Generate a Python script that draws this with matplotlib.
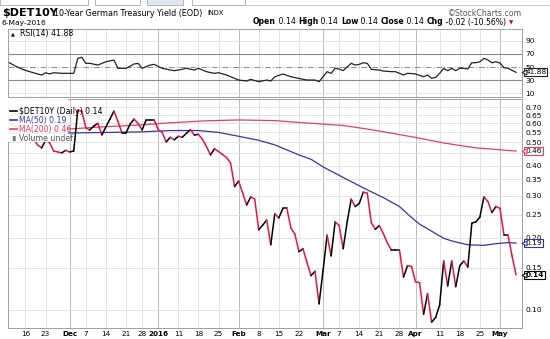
import numpy as np
import pandas as pd
import matplotlib.pyplot as plt
from matplotlib.collections import LineCollection
from matplotlib.patches import Rectangle
from matplotlib.transforms import blended_transform_factory
from matplotlib.ticker import FixedLocator, NullLocator, FuncFormatter

# ── data ──────────────────────────────────────────────────────────────────────
# Bund trading days (no fixing on Christmas / New Year)
days = pd.bdate_range('2015-11-10', '2016-05-06')
days = days[~days.isin(pd.to_datetime(['2015-12-25', '2016-01-01']))]

close = [0.60, 0.59, 0.575, 0.56, 0.55, 0.535, 0.515, 0.488, 0.474, 0.51,
         0.498, 0.46, 0.456, 0.452, 0.463, 0.456, 0.46, 0.68, 0.675, 0.575,
         0.563, 0.585, 0.60, 0.537, 0.58, 0.625, 0.675, 0.61, 0.547, 0.547,
         0.595, 0.625, 0.60, 0.563, 0.62, 0.62, 0.62, 0.565, 0.55, 0.502,
         0.525, 0.512, 0.53, 0.525, 0.545, 0.565, 0.536, 0.54, 0.515, 0.48,
         0.443, 0.47, 0.458, 0.445, 0.432, 0.41, 0.327, 0.345, 0.307, 0.274,
         0.296, 0.29, 0.216, 0.226, 0.237, 0.187, 0.252, 0.242, 0.265, 0.265,
         0.22, 0.207, 0.175, 0.18, 0.158, 0.139, 0.145, 0.106, 0.146, 0.205,
         0.168, 0.233, 0.225, 0.18, 0.233, 0.29, 0.27, 0.278, 0.31, 0.307,
         0.231, 0.217, 0.225, 0.208, 0.19, 0.178, 0.178, 0.178, 0.137, 0.153,
         0.152, 0.131, 0.13, 0.096, 0.117, 0.089, 0.093, 0.105, 0.16, 0.126,
         0.16, 0.125, 0.153, 0.16, 0.151, 0.23, 0.233, 0.244, 0.296, 0.283,
         0.255, 0.27, 0.265, 0.205, 0.205, 0.168, 0.14]

ma50_day = [0, 14, 25, 33, 40, 47, 52, 57, 62, 66, 72, 75, 78, 83, 88, 93,
            97, 100, 102, 105, 108, 110, 114, 118, 121, 124, 126]
ma50_val = [0.545, 0.547, 0.55, 0.553, 0.56, 0.56, 0.55, 0.53, 0.51, 0.488,
            0.443, 0.425, 0.395, 0.357, 0.323, 0.294, 0.27, 0.243, 0.228,
            0.213, 0.199, 0.194, 0.187, 0.186, 0.189, 0.191, 0.19]

ma200_day = [0, 14, 23, 32, 40, 49, 57, 66, 72, 74, 83, 89, 95, 101, 108,
             116, 126]
ma200_val = [0.558, 0.567, 0.58, 0.59, 0.603, 0.615, 0.62, 0.616, 0.605,
             0.602, 0.588, 0.568, 0.546, 0.524, 0.497, 0.474, 0.46]

rsi_day = [0, 1, 3, 5, 8, 9, 10, 11, 13, 16, 17, 18, 19, 20, 22, 24, 26, 27,
           29, 31, 32, 33, 35, 36, 38, 41, 43, 44, 46, 47, 49, 51, 52, 54, 56,
           57, 59, 60, 62, 64, 65, 66, 68, 70, 73, 74, 76, 77, 79, 80, 81, 82,
           83, 84, 85, 86, 87, 88, 89, 90, 92, 93, 95, 96, 98, 99, 100, 101,
           103, 104, 105, 106, 107, 108, 109, 110, 111, 112, 113, 114, 115,
           116, 117, 118, 119, 120, 121, 122, 123, 124, 125, 126]
rsi_val = [56.5, 53, 47, 43, 37.8, 41.3, 39.4, 41.3, 40.4, 40.4, 63, 64.8,
           55.6, 55.6, 53, 58, 60.6, 48, 48, 54.6, 55.6, 48, 53, 54, 48, 44.4,
           46.5, 48, 45.4, 48, 42.9, 40.4, 41.3, 37.8, 32.8, 30.2, 28.7, 31.3,
           27.6, 30.2, 28.7, 35.2, 39.4, 35.2, 31.3, 30.2, 30.2, 27.6, 42.9,
           40.4, 48, 47, 44.5, 50, 55.6, 53, 54, 56.5, 55.6, 46.5, 45.4, 43.9,
           42.9, 42.9, 37.8, 40.4, 40, 39.4, 35.2, 37.8, 32.8, 34.3, 40.4, 48,
           44.4, 48, 44.4, 48, 48, 47, 56.5, 56.5, 58, 63.2, 60.6, 56.5, 58,
           56, 49, 48, 45, 41.88]

tick_dates = ['2015-11-16', '2015-11-23', '2015-12-01', '2015-12-07',
              '2015-12-14', '2015-12-21', '2015-12-28', '2016-01-04',
              '2016-01-11', '2016-01-18', '2016-01-25', '2016-02-01',
              '2016-02-08', '2016-02-15', '2016-02-22', '2016-03-01',
              '2016-03-07', '2016-03-14', '2016-03-21', '2016-03-28',
              '2016-04-01', '2016-04-11', '2016-04-18', '2016-04-25',
              '2016-05-02']
tick_labels = ['16', '23', 'Dec', '7', '14', '21', '28', '2016', '11', '18',
               '25', 'Feb', '8', '15', '22', 'Mar', '7', '14', '21', '28',
               'Apr', '11', '18', '25', 'May']
month_labels = ['Dec', '2016', 'Feb', 'Mar', 'Apr', 'May']

price_levels = [0.10, 0.15, 0.20, 0.25, 0.30, 0.35, 0.40, 0.45, 0.50, 0.55,
                0.60, 0.65, 0.70]
hidden_levels = [0.45]          # sits under the MA(200) tag
rsi_levels = [10, 30, 50, 70, 90]

last_close, last_ma50, last_ma200, last_rsi = 0.14, 0.19, 0.46, 41.88

# ── style ─────────────────────────────────────────────────────────────────────
UP, DOWN = '#000000', '#e3173e'
C_MA50, C_MA200 = '#3535a8', '#e4405f'
GRID, GRID_M, SPINE = '#e3e3e3', '#bcbcbc', '#a0a0a0'
FS = 5.3

W, H = 550, 339
fx = lambda px: px / W
fy = lambda py: 1 - py / H

fig = plt.figure(figsize=(5.5, 3.39), dpi=100)
fig.patch.set_facecolor('white')

ax_rsi = fig.add_axes([fx(8), fy(97), fx(521.7) - fx(8), fy(29) - fy(97)])
ax = fig.add_axes([fx(8), fy(327.5), fx(521.7) - fx(8), fy(98.5) - fy(327.5)])

x = np.arange(len(days))
tick_pos = days.get_indexer(pd.to_datetime(tick_dates))
xlim = (-0.35, 127.4)

for a in (ax, ax_rsi):
    a.set_xlim(*xlim)
    for s in a.spines.values():
        s.set_color(SPINE)
        s.set_linewidth(0.7)
    for p, lab in zip(tick_pos, tick_labels):
        a.axvline(p, color=GRID_M if lab in month_labels else GRID,
                  lw=0.7, zorder=0)
    a.yaxis.tick_right()
    a.tick_params(axis='y', length=0, pad=2.4, labelsize=FS)
ax.spines['bottom'].set_linestyle((0, (1, 1)))

# ── RSI panel ─────────────────────────────────────────────────────────────────
ax_rsi.set_ylim(4.4, 107.8)
ax_rsi.set_yticks(rsi_levels)
ax_rsi.set_xticks([])
for lv in (10, 90):
    ax_rsi.axhline(lv, color=GRID, lw=0.7, zorder=0)
for lv in (30, 70):
    ax_rsi.axhline(lv, color='#8a8a8a', lw=0.8, zorder=1)
ax_rsi.axhline(50, color='#8a8a8a', lw=0.7, ls=(0, (6, 2, 1, 2)), zorder=1)
ax_rsi.plot(rsi_day, rsi_val, color='#222222', lw=0.9, zorder=3)
ax_rsi.text(0.024, 0.93, 'RSI(14) 41.88', transform=ax_rsi.transAxes,
            fontsize=FS + 0.3, va='center', ha='left', zorder=6)
ax_rsi.text(0.006, 0.93, '\u25b2', transform=ax_rsi.transAxes,
            fontsize=3.6, va='center', ha='left', zorder=6)

# ── price panel ───────────────────────────────────────────────────────────────
ax.set_yscale('log')
ax.set_ylim(0.0845, 0.7617)
ax.yaxis.set_major_locator(FixedLocator(price_levels))
ax.yaxis.set_minor_locator(NullLocator())
ax.yaxis.set_major_formatter(FuncFormatter(
    lambda v, _: '' if any(abs(v - h) < 1e-9 for h in hidden_levels)
    else f'{v:.2f}'))
for lv in price_levels:
    ax.axhline(lv, color=GRID, lw=0.7, zorder=0)

ax.set_xticks(tick_pos)
ax.set_xticklabels(tick_labels)
ax.tick_params(axis='x', length=0, pad=2.6, labelsize=FS - 0.1)
for t in ax.get_xticklabels():
    if t.get_text() in month_labels:
        t.set_fontweight('bold')

ax.plot(ma200_day, ma200_val, color=C_MA200, lw=0.9, zorder=2)
ax.plot(ma50_day, ma50_val, color=C_MA50, lw=0.9, zorder=2)

pts = np.column_stack([x, close])
segs = np.stack([pts[:-1], pts[1:]], axis=1)
cols = [UP if b >= a else DOWN for a, b in zip(close[:-1], close[1:])]
ax.add_collection(LineCollection(segs, colors=cols, linewidths=1.1,
                                 capstyle='round', joinstyle='round', zorder=3))

# legend block
ax.add_patch(Rectangle((0, 0.81), 0.117, 0.19, transform=ax.transAxes,
                       facecolor='white', edgecolor='none', alpha=0.9, zorder=4))
rows = [(r'\$DET10Y (Daily) 0.14', UP), ('MA(50) 0.19', C_MA50),
        ('MA(200) 0.46', C_MA200), ('Volume undef', '#555555')]
for k, (label, c) in enumerate(rows):
    yy = 0.945 - k * 0.040
    if k < 3:
        ax.plot([0.004, 0.018], [yy, yy], color=c, lw=1.2,
                transform=ax.transAxes, zorder=5, clip_on=False)
    else:
        ax.text(0.004, yy, '\u2590\u258c', transform=ax.transAxes,
                fontsize=3.5, color='#777777', va='center', zorder=5)
    ax.text(0.022, yy, label, transform=ax.transAxes, fontsize=FS + 0.3,
            color=c, va='center', ha='left', zorder=6)


# right-hand value tags
def tag(a, y, text, color, bold=False):
    tr = blended_transform_factory(a.transAxes, a.transData)
    a.annotate(text, xy=(1.0, y), xycoords=tr, xytext=(2.6, 0),
               textcoords='offset points', ha='left', va='center',
               fontsize=FS, fontweight='bold' if bold else 'normal',
               bbox=dict(boxstyle='square,pad=0.12', fc='white', ec=color,
                         lw=0.8), zorder=10, annotation_clip=False)
    a.scatter([1.004], [y], marker='<', s=12, facecolor='white',
              edgecolor=color, linewidths=0.7, transform=tr, clip_on=False,
              zorder=11)


tag(ax_rsi, last_rsi, f'{last_rsi:.2f}', '#222222')
tag(ax, last_ma200, f'{last_ma200:.2f}', C_MA200)
tag(ax, last_ma50, f'{last_ma50:.2f}', C_MA50)
tag(ax, last_close, f'{last_close:.2f}', '#000000', bold=True)

# ── header ────────────────────────────────────────────────────────────────────
for x0, x1, fc in [(0, 88, 'white'), (95, 140, 'white'),
                   (147, 183, '#dfe7f3'), (192, 245, 'white')]:
    fig.add_artist(Rectangle((fx(x0), fy(4.5)), fx(x1 - x0), 6 / H,
                             transform=fig.transFigure, facecolor=fc,
                             edgecolor='#b4b4b4', lw=0.7))
fig.add_artist(plt.Line2D([fx(245), 1], [fy(4.5), fy(4.5)],
                          transform=fig.transFigure, color='#c8c8c8', lw=0.7))

fig.text(fx(2), fy(13), r'\$DET10Y', fontsize=8, fontweight='bold',
         va='center', ha='left')
fig.text(fx(54), fy(13), '10-Year German Treasury Yield (EOD)',
         fontsize=5.8, va='center', ha='left')
fig.text(fx(207), fy(13), 'INDX', fontsize=4.8, va='center', ha='left')
fig.text(fx(2), fy(23), '6-May-2016', fontsize=5.4, va='center', ha='left')
fig.text(fx(522), fy(13), '\u00a9StockCharts.com', fontsize=5.6,
         color='#555555', va='center', ha='right')

info = [('Open', True), (' 0.14 ', False), ('High', True), (' 0.14 ', False),
        ('Low', True), (' 0.14 ', False), ('Close', True), (' 0.14 ', False),
        ('Chg', True), (' -0.02 (-10.56%) ', False)]
prev = ax_rsi.annotate(info[0][0], xy=(fx(253), fy(26.5)),
                       xycoords='figure fraction', fontsize=5.6,
                       fontweight='bold', va='bottom', ha='left',
                       annotation_clip=False)
for s, b in info[1:]:
    prev = ax_rsi.annotate(s, xy=(1, 0), xycoords=prev, fontsize=5.6,
                           fontweight='bold' if b else 'normal',
                           va='bottom', ha='left', annotation_clip=False)
ax_rsi.annotate('\u25bc', xy=(1, 0.1), xycoords=prev, fontsize=4,
                color='#c8102e', va='bottom', ha='left', annotation_clip=False)

fig.savefig('out.png', dpi=100, facecolor='white')
